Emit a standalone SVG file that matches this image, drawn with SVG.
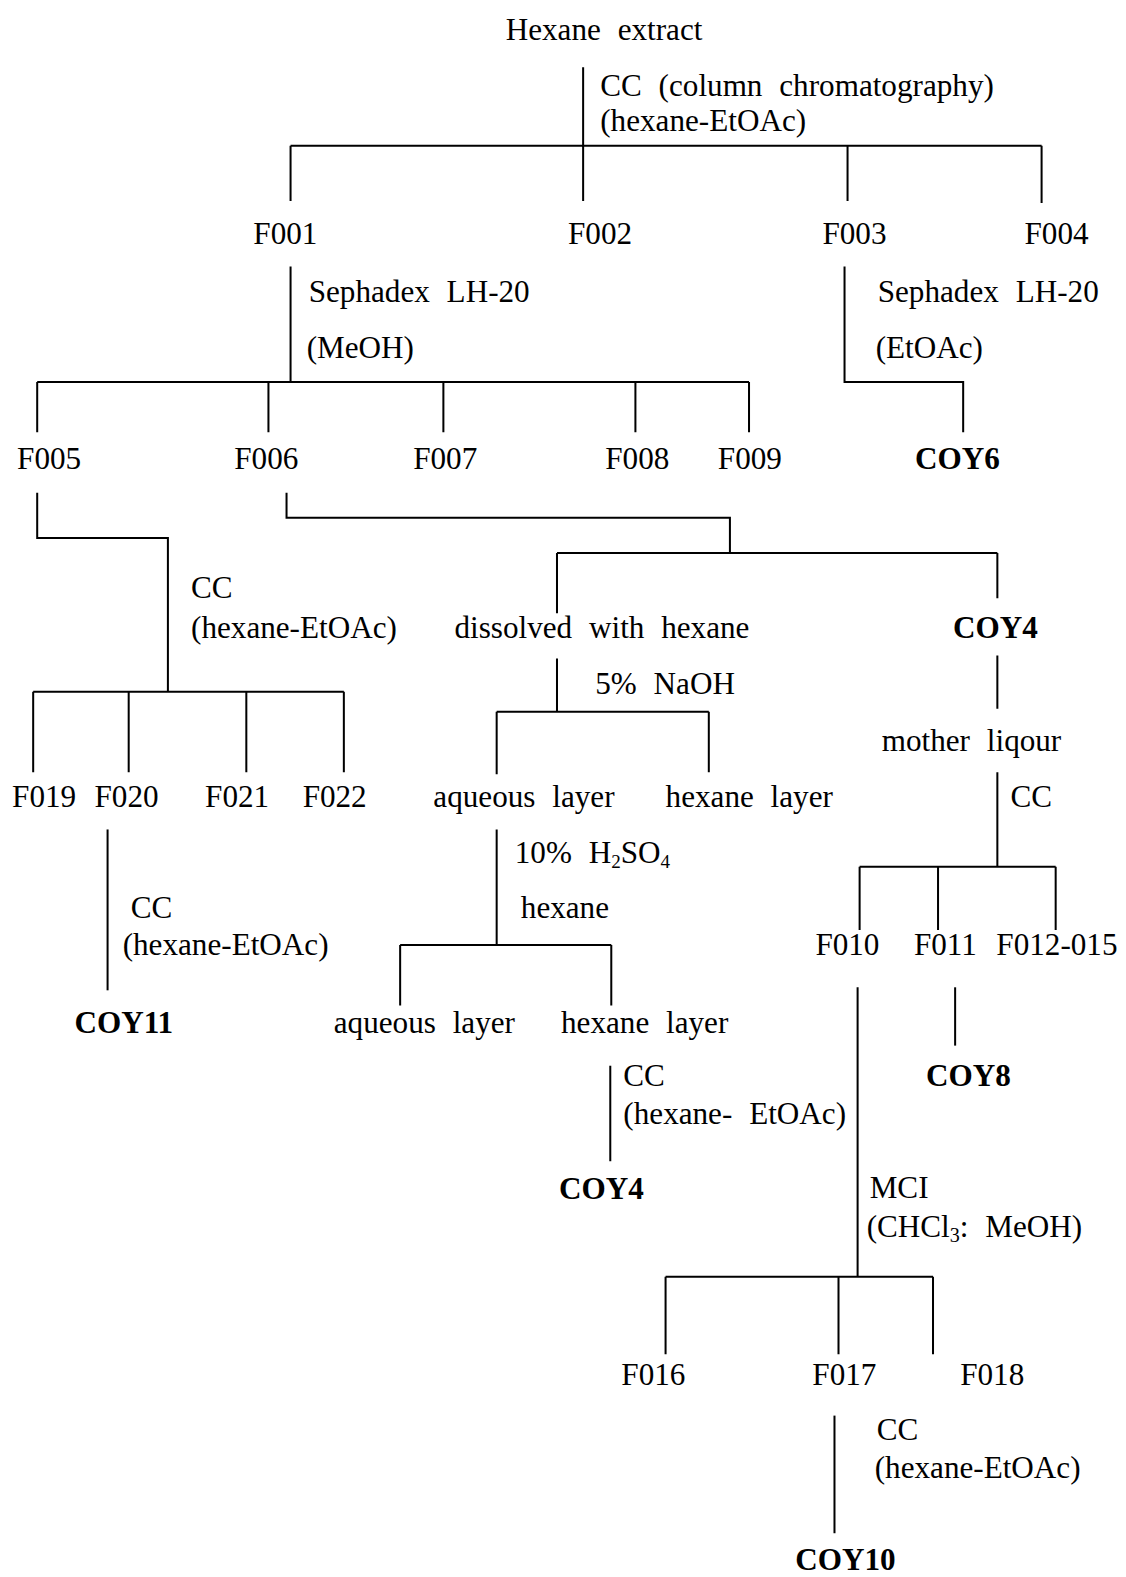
<svg xmlns="http://www.w3.org/2000/svg" width="1126" height="1577" viewBox="0 0 1126 1577">
<style>
text{font-family:"Liberation Serif","Times New Roman",serif;font-size:31px;fill:#000;word-spacing:9px}
.b{font-weight:bold}
.ln{stroke:#000;stroke-width:2;fill:none}
</style>
<rect width="1126" height="1577" fill="#fff"/>
<g transform="scale(1.0054)">
<g id="connectors" class="ln">
<path d="M580 67V145M289 145H1036M289 145V200M580 145V200M843 145V200M1036 145V202"/>
<path d="M289 265V380M37 380H745M37 380V430M267 380V430M441 380V430M632 380V430M745 380V430"/>
<path d="M840 265V380H958V430"/>
<path d="M37 490V535H167V688M33 688H342M33 688V768M128 688V768M245 688V768M342 688V768"/>
<path d="M107 825V985"/>
<path d="M285 490V515H726V550M554 550H992M554 550V610M992 550V595"/>
<path d="M554 655V708M494 708H705M494 708V770M705 708V768"/>
<path d="M494 825V940M398 940H608M398 940V1000M608 940V1000"/>
<path d="M607 1060V1155"/>
<path d="M992 652V705M992 768V862M855 862H1050M855 862V925M933 862V925M1050 862V925"/>
<path d="M950 982V1040"/>
<path d="M853 982V1270M662 1270H928M662 1270V1347M834 1270V1347M928 1270V1347"/>
<path d="M830 1408V1525"/>
</g>
<g id="n_hexane_extract"><text x="503" y="40">Hexane extract</text></g>
<g id="l_cc1"><text x="597" y="95">CC (column chromatography)</text><text x="597" y="130">(hexane-EtOAc)</text></g>
<g id="n_F001"><text x="252" y="243">F001</text></g>
<g id="n_F002"><text x="565" y="243">F002</text></g>
<g id="n_F003"><text x="818" y="243">F003</text></g>
<g id="n_F004"><text x="1019" y="243">F004</text></g>
<g id="l_seph1"><text x="307" y="300">Sephadex LH-20</text><text x="305" y="356">(MeOH)</text></g>
<g id="l_seph2"><text x="873" y="300">Sephadex LH-20</text><text x="871" y="356">(EtOAc)</text></g>
<g id="n_F005"><text x="17" y="466">F005</text></g>
<g id="n_F006"><text x="233" y="466">F006</text></g>
<g id="n_F007"><text x="411" y="466">F007</text></g>
<g id="n_F008"><text x="602" y="466">F008</text></g>
<g id="n_F009"><text x="714" y="466">F009</text></g>
<g id="n_COY6"><text class="b" x="910" y="466">COY6</text></g>
<g id="l_cc2"><text x="190" y="595">CC</text><text x="190" y="635">(hexane-EtOAc)</text></g>
<g id="n_dissolved"><text x="452" y="635">dissolved with hexane</text></g>
<g id="n_COY4a"><text class="b" x="948" y="635">COY4</text></g>
<g id="l_naoh"><text x="592" y="690">5% NaOH</text></g>
<g id="n_F019"><text x="12" y="803">F019</text></g>
<g id="n_F020"><text x="94" y="803">F020</text></g>
<g id="n_F021"><text x="204" y="803">F021</text></g>
<g id="n_F022"><text x="301" y="803">F022</text></g>
<g id="n_aq1"><text x="431" y="803">aqueous layer</text></g>
<g id="n_hex1"><text x="662" y="803">hexane layer</text></g>
<g id="n_mother"><text x="877" y="747">mother liqour</text></g>
<g id="l_cc3"><text x="1005" y="803">CC</text></g>
<g id="l_h2so4"><text x="512" y="858" font-size="29">10% H<tspan font-size="19" dy="5">2</tspan><tspan dy="-5">SO</tspan><tspan font-size="19" dy="5">4</tspan></text><text x="518" y="913">hexane</text></g>
<g id="l_cc4"><text x="130" y="913">CC</text><text x="122" y="950">(hexane-EtOAc)</text></g>
<g id="n_F010"><text x="811" y="950">F010</text></g>
<g id="n_F011"><text x="909" y="950">F011</text></g>
<g id="n_F012"><text x="991" y="950">F012-015</text></g>
<g id="n_aq2"><text x="332" y="1027">aqueous layer</text></g>
<g id="n_hex2"><text x="558" y="1027">hexane layer</text></g>
<g id="n_COY11"><text class="b" x="74" y="1027">COY11</text></g>
<g id="n_COY8"><text class="b" x="921" y="1080">COY8</text></g>
<g id="l_cc5"><text x="620" y="1080">CC</text><text x="620" y="1118">(hexane- EtOAc)</text></g>
<g id="n_COY4b"><text class="b" x="556" y="1193">COY4</text></g>
<g id="l_mci"><text x="865" y="1192">MCI</text><text x="862" y="1230">(CHCl<tspan font-size="20" dy="5">3</tspan><tspan dy="-5">: MeOH)</tspan></text></g>
<g id="n_F016"><text x="618" y="1378">F016</text></g>
<g id="n_F017"><text x="808" y="1378">F017</text></g>
<g id="n_F018"><text x="955" y="1378">F018</text></g>
<g id="l_cc6"><text x="872" y="1432">CC</text><text x="870" y="1470">(hexane-EtOAc)</text></g>
<g id="n_COY10"><text class="b" x="791" y="1562">COY10</text></g>
</g>
</svg>
